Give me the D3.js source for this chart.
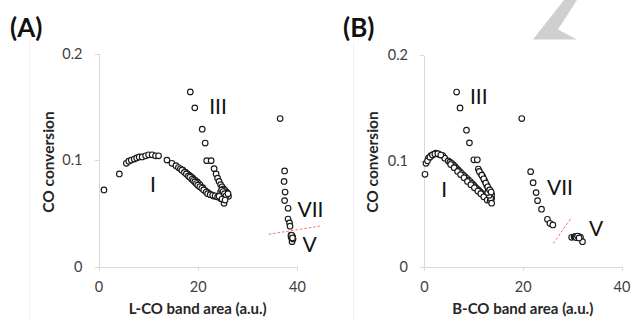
<!DOCTYPE html>
<html><head><meta charset="utf-8">
<script src="https://cdn.jsdelivr.net/npm/d3@7"></script>
<style>
html,body{margin:0;padding:0;background:#fff;}
svg{display:block;font-family:Lato,"Open Sans",sans-serif;}
.axis path,.axis line{stroke:#d9d9d9;shape-rendering:crispEdges;}
.axis text{fill:#404040;font-size:14.5px;font-family:Lato,sans-serif;}
</style></head>
<body>
<svg id="c" width="631" height="320"></svg>
<script>
// ---------- Data ----------
const yTicks = [0, 0.1, 0.2];
const xTicks = [0, 20, 40];

// Panel A (L-CO band area)
const aX = [1.1, 4.2, 5.6, 6.1, 6.6, 7.2, 7.7, 8.2, 8.8, 9.5, 10.1, 10.8, 11.5, 12.1,
  13.8, 14.8, 15.6, 16.1, 16.5, 17.0, 17.5, 17.9, 18.2, 18.5, 18.9, 19.2, 19.5, 19.9, 20.2, 20.5, 21.0, 21.5, 21.9, 22.2, 22.7, 23.2, 23.7, 24.2,
  16.8, 17.3, 17.7, 18.1, 18.4, 18.8, 19.1, 19.4, 19.7, 20.0, 20.4, 20.8, 21.2, 21.7, 22.0, 22.5, 23.0, 23.5, 24.0, 24.6,
  18.5, 19.4, 20.9, 21.5, 21.8, 22.7, 23.3, 23.7, 24.0, 24.3, 24.6, 24.9, 25.2, 25.5, 25.8, 26.0, 26.2, 25.9, 25.6, 25.3, 25.0, 24.6, 24.3, 25.3,
  24.8, 25.1, 25.4, 25.7, 26.1, 24.9, 25.5,
  36.6, 37.5, 37.4, 37.6, 37.5, 38.2, 38.2, 38.5, 38.6, 38.8, 38.9, 39.0, 38.9, 39.1, 39.0, 39.2, 38.8, 39.0, 38.9, 39.1];
const aY = [0.072, 0.087, 0.097, 0.099, 0.100, 0.101, 0.102, 0.103, 0.103, 0.104, 0.105, 0.105, 0.104, 0.104,
  0.100, 0.097, 0.0947, 0.093, 0.0918, 0.0907, 0.0888, 0.087, 0.086, 0.085, 0.0835, 0.082, 0.081, 0.0795, 0.078, 0.0766, 0.0741, 0.0713, 0.070, 0.0689, 0.0676, 0.0663, 0.066, 0.0657,
  0.0905, 0.0885, 0.087, 0.0852, 0.084, 0.082, 0.0808, 0.0795, 0.078, 0.0765, 0.075, 0.0735, 0.072, 0.070, 0.0685, 0.0675, 0.067, 0.0665, 0.0655, 0.064,
  0.164, 0.149, 0.129, 0.116, 0.0995, 0.0995, 0.092, 0.087, 0.083, 0.080, 0.077, 0.075, 0.073, 0.0715, 0.070, 0.068, 0.066, 0.069, 0.067, 0.065, 0.068, 0.070, 0.066, 0.0595,
  0.072, 0.0705, 0.0685, 0.0665, 0.0685, 0.0635, 0.0625,
  0.139, 0.0898, 0.080, 0.070, 0.062, 0.0548, 0.0447, 0.041, 0.038, 0.0297, 0.028, 0.029, 0.027, 0.028, 0.0235, 0.026, 0.0285, 0.0275, 0.0295, 0.027];

// Panel B (B-CO band area)
const bX = [0.2, 0.4, 0.9, 1.4, 1.9, 2.4, 3.1, 3.8, 4.2, 4.9, 5.25, 5.6, 5.95, 6.3, 6.6, 6.9, 7.25, 7.6, 7.95, 8.3, 8.65, 9.0, 9.35, 9.7, 10.0, 10.3, 10.65, 11.0, 11.35, 11.7, 12.0, 12.3, 12.65, 13.0, 13.3, 13.7,
  0.7, 1.2, 1.7, 2.2, 2.8, 3.4, 5.4, 6.1, 6.8, 7.4, 8.1, 8.8, 9.5, 10.2, 10.9, 11.5, 12.1, 12.8, 13.4,
  6.6, 7.3, 8.6, 9.2, 10.1, 10.8, 11.0, 11.5, 11.9, 12.3, 12.7, 13.0, 13.5, 13.7, 13.5, 13.7, 13.2, 12.9,
  11.2, 11.7, 12.1, 12.5, 12.9, 13.3, 13.6,
  19.8, 21.6, 22.1, 22.7, 23.0, 23.8, 25.0, 25.5, 26.1, 29.9, 30.4, 30.6, 30.9, 31.2, 31.5, 31.7, 32.1, 30.8, 31.1, 31.4];
const bY = [0.0873, 0.0977, 0.1025, 0.1049, 0.1062, 0.1072, 0.106, 0.105, 0.1025, 0.0999, 0.0988, 0.0977, 0.0961, 0.0945, 0.093, 0.0914, 0.0898, 0.0882, 0.0866, 0.0851, 0.0835, 0.082, 0.0804, 0.0788, 0.0772, 0.0756, 0.074, 0.0725, 0.0709, 0.0693, 0.0682, 0.0671, 0.0661, 0.0652, 0.0649, 0.0646,
  0.100, 0.1035, 0.1055, 0.1065, 0.1068, 0.1055, 0.0965, 0.0935, 0.090, 0.087, 0.084, 0.0805, 0.0775, 0.0745, 0.0715, 0.069, 0.066, 0.063, 0.0625,
  0.165, 0.150, 0.129, 0.117, 0.101, 0.101, 0.0923, 0.088, 0.085, 0.081, 0.077, 0.074, 0.071, 0.068, 0.0647, 0.060, 0.0675, 0.070,
  0.090, 0.0865, 0.083, 0.079, 0.0755, 0.0725, 0.0705,
  0.140, 0.0898, 0.0794, 0.070, 0.0624, 0.0543, 0.0448, 0.041, 0.0394, 0.0278, 0.0282, 0.0284, 0.028, 0.0284, 0.0282, 0.0278, 0.0236, 0.0275, 0.029, 0.0272];

// Region labels [text, x, y] in data units
const aLabels = [["I", 10.4, 0.070], ["III", 22.3, 0.143], ["VII", 40.1, 0.047], ["V", 41.1, 0.0140]];
const bLabels = [["I", 3.5, 0.066], ["III", 9.3, 0.154], ["VII", 24.9, 0.068], ["V", 33.4, 0.029]];
// Dashed separators [x1, y1, x2, y2] in data units
const aSep = [34.3, 0.0304, 44.8, 0.0382];
const bSep = [26.2, 0.0221, 29.9, 0.0467];

const panels = [
  {tag: "(A)", xt: "L-CO band area (a.u.)", x: aX, y: aY, labels: aLabels, sep: aSep,
   xr: [98.5, 297], yr: [266.7, 53.5], tagX: 10, titleX: 49, frameX: 29},
  {tag: "(B)", xt: "B-CO band area (a.u.)", x: bX, y: bY, labels: bLabels, sep: bSep,
   xr: [424, 621.5], yr: [266.7, 55], tagX: 343, titleX: 373, frameX: 353}
];

const svg = d3.select("#c");

// decorative grey chevron at top right
svg.append("path").attr("d", "M564,0 L577,0 L558,29.5 L577,39.5 L533,39.5 Z").attr("fill", "#cfcfcf");

panels.forEach(p => {
  const g = svg.append("g");
  const x = d3.scaleLinear().domain([0, 40]).range(p.xr);
  const y = d3.scaleLinear().domain([0, 0.2]).range(p.yr);

  g.append("line").attr("x1", p.frameX + 0.5).attr("x2", p.frameX + 0.5).attr("y1", 42).attr("y2", 320)
    .attr("stroke", "#f0f0f0");

  g.append("g").attr("class", "axis").attr("transform", `translate(0,${p.yr[0]})`)
    .call(d3.axisBottom(x).tickValues(xTicks).tickSize(4).tickPadding(11).tickSizeOuter(0));
  g.append("g").attr("class", "axis").attr("transform", `translate(${p.xr[0]},0)`)
    .call(d3.axisLeft(y).tickValues(yTicks).tickSize(4).tickPadding(12).tickSizeOuter(0)
      .tickFormat(d => d === 0 ? "0" : d3.format(".1f")(d)));

  // separator
  g.append("line").attr("x1", x(p.sep[0])).attr("y1", y(p.sep[1])).attr("x2", x(p.sep[2])).attr("y2", y(p.sep[3]))
    .attr("stroke", "#ff6b6b").attr("stroke-width", 1).attr("stroke-dasharray", "2.5,2");

  g.selectAll("circle").data(p.x.map((v, i) => [v, p.y[i]])).enter().append("circle")
    .attr("cx", d => x(d[0])).attr("cy", d => y(d[1])).attr("r", 2.8)
    .attr("fill", "#fff").attr("stroke", "#1a1a1a").attr("stroke-width", 1.15);

  g.selectAll("text.lab").data(p.labels).enter().append("text").attr("class", "lab")
    .attr("x", d => x(d[1])).attr("y", d => y(d[2]))
    .attr("font-size", 21).attr("fill", "#111").text(d => d[0]);

  g.append("text").attr("x", p.tagX).attr("y", 37).attr("font-size", 26).attr("font-weight", "bold")
    .attr("fill", "#111").text(p.tag);

  g.append("text").attr("x", (p.xr[0] + p.xr[1]) / 2).attr("y", 314).attr("text-anchor", "middle")
    .attr("font-size", 15).attr("font-weight", "bold").attr("fill", "#262626").text(p.xt);

  g.append("text").attr("transform", `translate(${p.titleX + 5},162) rotate(-90)`).attr("text-anchor", "middle")
    .attr("font-size", 15.5).attr("font-weight", "bold").attr("fill", "#262626").text("CO conversion");
});
</script>
</body></html>
